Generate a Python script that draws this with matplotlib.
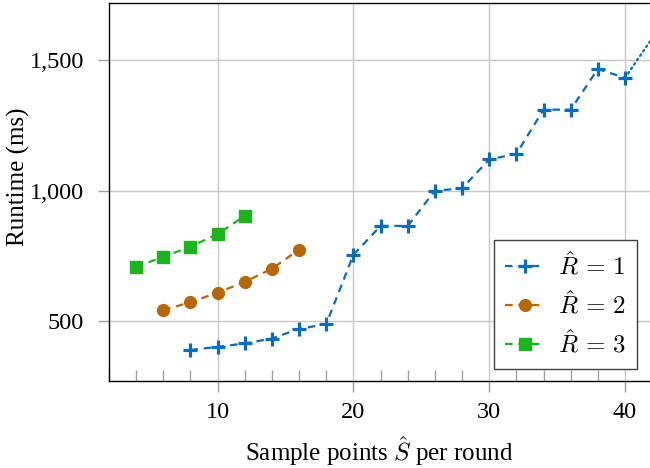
import numpy as np
import matplotlib
matplotlib.use('Agg')
import matplotlib.pyplot as plt
from matplotlib.ticker import MultipleLocator, FuncFormatter

plt.rcParams['font.family'] = ['Liberation Serif', 'DejaVu Serif']
plt.rcParams['mathtext.fontset'] = 'cm'

# data
x_r1 = [8, 10, 12, 14, 16, 18, 20, 22, 24, 26, 28, 30, 32, 34, 36, 38, 40]
y_r1 = [389, 401, 414, 433, 470, 488, 754, 865, 865, 1000, 1009, 1120, 1141, 1311, 1311, 1467, 1433]
# dotted continuation past the right edge
x_r1_tail = [40, 42]
y_r1_tail = [1433, 1585]

x_r2 = [6, 8, 10, 12, 14, 16]
y_r2 = [542, 572, 609, 650, 701, 774]

x_r3 = [4, 6, 8, 10, 12]
y_r3 = [708, 746, 785, 834, 903]

labels = ['$\\hat{R}\\,=\\,1$', '$\\hat{R}\\,=\\,2$', '$\\hat{R}\\,=\\,3$']
c_blue = '#0a6cbd'
c_orange = '#b5670a'
c_green = '#1cb41c'

fig = plt.figure(figsize=(6.5, 4.68), dpi=100)
ax = fig.add_axes([0.1675, 0.1859, 0.8325, 0.807])

ax.plot(x_r1, y_r1, color=c_blue, lw=1.6, ls=(0, (3.4, 2.6)), marker='+', ms=9.5, mew=2.3, label=labels[0])
ax.plot(x_r1_tail, y_r1_tail, color=c_blue, lw=1.6, ls=(0, (0.8, 1.6)), dash_capstyle='round')
ax.plot(x_r2, y_r2, color=c_orange, lw=1.6, ls=(0, (3.4, 2.6)), marker='o', ms=8.5, label=labels[1])
ax.plot(x_r3, y_r3, color=c_green, lw=1.6, ls=(0, (3.4, 2.6)), marker='s', ms=8.5, label=labels[2])

ax.set_xlim(2, 41.84)
ax.set_ylim(270, 1719)

ax.xaxis.set_major_locator(MultipleLocator(10))
ax.xaxis.set_minor_locator(MultipleLocator(2))
ax.yaxis.set_major_locator(MultipleLocator(500))
ax.yaxis.set_major_formatter(FuncFormatter(lambda v, p: '{:,.0f}'.format(v)))

ax.grid(True, which='major', color='#c8c8c8', lw=1.0)
ax.set_axisbelow(True)
ax.tick_params(axis='both', which='major', direction='out', length=7.8, width=1.0,
               color='#a0a0a0', labelsize=17.5)
ax.tick_params(axis='y', which='major', pad=10)
ax.tick_params(axis='x', which='major', pad=7)
ax.tick_params(axis='x', which='minor', direction='in', length=8, width=1.0, color='#a0a0a0')

ax.spines['right'].set_visible(False)
for s in ['left', 'bottom', 'top']:
    ax.spines[s].set_linewidth(1.0)

ax.set_xlabel('Sample points $\\hat{S}$ per round', fontsize=18, labelpad=8)
ax.set_ylabel('Runtime (ms)', fontsize=18)
ax.yaxis.set_label_coords(-0.146, 0.54)

leg = ax.legend(loc='lower right', bbox_to_anchor=(637 / 650, 1 - 369 / 468),
                bbox_transform=fig.transFigure, borderaxespad=0, fancybox=False,
                edgecolor='#404040', framealpha=1, fontsize=18, handlelength=1.6,
                handletextpad=0.5, labelspacing=0.45, borderpad=0.45)
leg.get_frame().set_linewidth(1.0)

fig.savefig('out.png', dpi=100)
